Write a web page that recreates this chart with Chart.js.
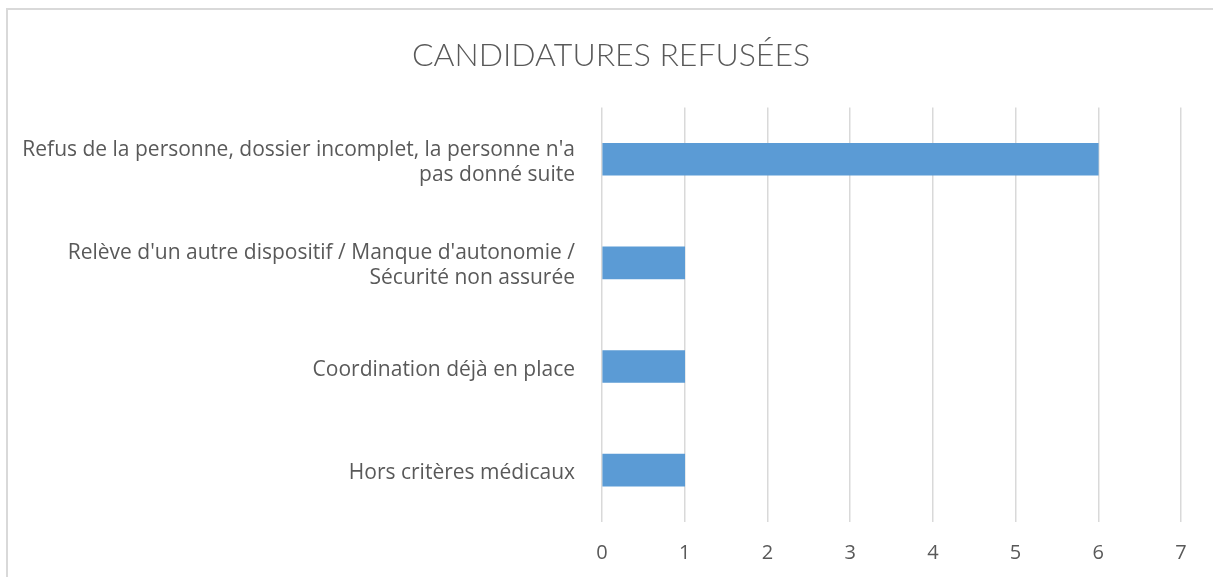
<!DOCTYPE html>
<html>
<head>
<meta charset="utf-8">
<script src="https://cdn.jsdelivr.net/npm/chart.js@4"></script>
<style>
  html, body { margin: 0; padding: 0; background: #fff; }
  #wrap { position: relative; width: 1213px; height: 577px; overflow: hidden; }
  #frame { position: absolute; left: 6px; top: 8px; width: 1220px; height: 600px;
           border-left: 2px solid #d9d9d9; border-top: 2px solid #d9d9d9; }
  canvas { position: absolute; left: 0; top: 0; }
</style>
</head>
<body>
<div id="wrap">
  <div id="frame"></div>
  <canvas id="chart" width="1213" height="577"></canvas>
</div>
<script>
// data
const categories = [
  ["Refus de la personne, dossier incomplet, la personne n'a", "pas donné suite"],
  ["Relève d'un autre dispositif / Manque d'autonomie /", "Sécurité non assurée"],
  "Coordination déjà en place",
  "Hors critères médicaux"
];
const refusedCounts = [6, 1, 1, 1];
const xTicks = [0, 1, 2, 3, 4, 5, 6, 7];
const chartTitle = "CANDIDATURES REFUSÉES";

const textColor = "#595959";

const ctx = document.getElementById("chart").getContext("2d");
new Chart(ctx, {
  type: "bar",
  data: {
    labels: categories,
    datasets: [{
      label: "Candidatures refusées",
      data: refusedCounts,
      backgroundColor: "#5b9bd5",
      barThickness: 32
    }]
  },
  options: {
    indexAxis: "y",
    responsive: false,
    animation: false,
    // left/right padding keep the title centred like the original
    layout: { padding: { left: 18, right: 9, top: 0, bottom: 0 } },
    plugins: {
      legend: { display: false },
      tooltip: { enabled: false },
      title: {
        display: true,
        text: chartTitle,
        color: textColor,
        font: { family: "Lato", size: 32, weight: "300", lineHeight: 1.2 },
        padding: { top: 36, bottom: 33 }
      }
    },
    scales: {
      x: {
        min: 0,
        max: xTicks[xTicks.length - 1],
        afterBuildTicks: (scale) => { scale.ticks = xTicks.map(v => ({ value: v })); },
        afterFit: (scale) => { scale.height = 55; scale.paddingRight = 32; },
        grid: { color: "#d9d9d9", lineWidth: 1.5, drawTicks: false },
        border: { display: false },
        ticks: {
          color: textColor,
          padding: 19,
          font: { family: "Open Sans", size: 20 }
        }
      },
      y: {
        afterFit: (scale) => { scale.width = 584; },
        grid: { display: false, drawTicks: false },
        border: { display: false },
        ticks: {
          color: textColor,
          padding: 27,
          labelOffset: 3,
          font: { family: "Open Sans", size: 21, lineHeight: "25px" }
        }
      }
    }
  }
});
</script>
</body>
</html>
